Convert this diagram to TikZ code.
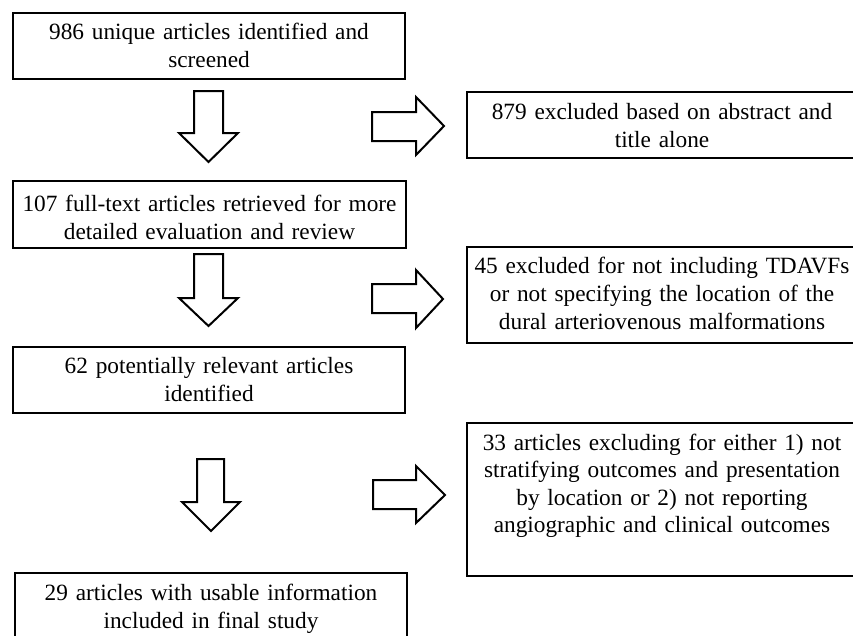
\documentclass[tikz,border=0pt]{standalone}
\usepackage{fontspec}
\setmainfont[WordSpace=0.8]{Liberation Serif}
\begin{document}
\begin{tikzpicture}[x=1pt,y=-1pt,
  boxsty/.style={draw=black, line width=2pt, rectangle, inner sep=0pt, fill=white},
  txtsty/.style={inner sep=0pt, text width=400pt, align=center, anchor=base,
    font=\fontsize{23.3}{28}\selectfont},
  blockarrow/.style={draw=black, line width=2pt, fill=white, line join=miter}]
\useasboundingbox (0,0) rectangle (853,635);
\clip (0,0) rectangle (853,635);
\fill[white] (0,0) rectangle (853,635);

% boxes
\node[boxsty, minimum width=392pt, minimum height=66pt] (b1) at (209,46) {};
\node[boxsty, minimum width=393pt, minimum height=67pt] (b2) at (209.5,214) {};
\node[boxsty, minimum width=392pt, minimum height=66pt] (b3) at (209,379.5) {};
\node[boxsty, minimum width=392pt, minimum height=82pt] (b4) at (211,614) {};
\node[boxsty, minimum width=390pt, minimum height=66pt] (r1) at (662,125) {};
\node[boxsty, minimum width=390pt, minimum height=96pt] (r2) at (662,295) {};
\node[boxsty, minimum width=390pt, minimum height=153pt] (r3) at (662,499.5) {};

% texts
\node[txtsty] (t1) at (209,39) {986 unique articles identified and\\screened};
\node[txtsty] (t2) at (209.5,211.5) {107 full-text articles retrieved for more\\detailed evaluation and review};
\node[txtsty] (t3) at (209,373.5) {62 potentially relevant articles\\identified};
\node[txtsty] (t4) at (211,600) {29 articles with usable information\\included in final study};
\node[txtsty] (u1) at (662,119) {879 excluded based on abstract and\\title alone};
\node[txtsty] (u2) at (662,273) {45 excluded for not including TDAVFs\\or not specifying the location of the\\dural arteriovenous malformations};
\node[txtsty, font=\fontsize{23.3}{27.5}\selectfont] (u3) at (662,450) {33 articles excluding for either 1) not\\stratifying outcomes and presentation\\by location or 2) not reporting\\angiographic and clinical outcomes};

% down block arrows
\draw[blockarrow] (194,91) -- (223,91) -- (223,133) -- (238,133) -- (208.5,162) -- (179,133) -- (194,133) -- cycle;
\draw[blockarrow] (194,254) -- (223,254) -- (223,298) -- (238,298) -- (208.5,326) -- (179,298) -- (194,298) -- cycle;
\draw[blockarrow] (197,459) -- (224,459) -- (224,502) -- (240,502) -- (211,531) -- (182,502) -- (197,502) -- cycle;

% right block arrows
\draw[blockarrow] (372,112) -- (416,112) -- (416,97) -- (444,126) -- (416,155) -- (416,141) -- (372,141) -- cycle;
\draw[blockarrow] (372,284) -- (416,284) -- (416,270) -- (443,299) -- (416,328) -- (416,313) -- (372,313) -- cycle;
\draw[blockarrow] (373,480) -- (416,480) -- (416,466) -- (445,495) -- (416,523) -- (416,509) -- (373,509) -- cycle;
\end{tikzpicture}
\end{document}
